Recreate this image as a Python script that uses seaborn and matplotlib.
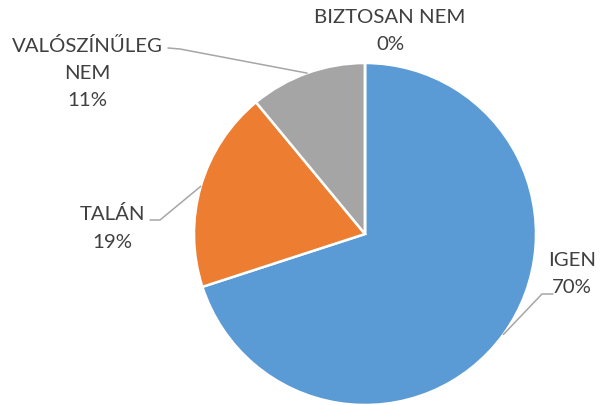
import numpy as np
import matplotlib
matplotlib.use("Agg")
import matplotlib.pyplot as plt
import seaborn as sns

# data
categories = ["IGEN", "TALÁN", "VALÓSZÍNŰLEG\nNEM", "BIZTOSAN NEM"]
values = [70, 19, 11, 0]
colors = ["#5B9BD5", "#ED7D31", "#A5A5A5", "#FFC000"]

# label layout in pixel coordinates (x, y from top)
label_pos = {
    "IGEN": (572, 274),
    "TALÁN": (112, 228),
    "VALÓSZÍNŰLEG\nNEM": (87, 73),
    "BIZTOSAN NEM": (390, 31),
}
# leader line elbow and end (pixel coords, y from top)
leader = {
    "IGEN": [(542, 295), (553, 295)],
    "TALÁN": [(160, 221), (150, 221)],
    "VALÓSZÍNŰLEG\nNEM": [(180, 50), (168, 49)],
}

W, H = 608, 406
cx, cy, r = 365, 235, 171

sns.set_theme(style="white")
plt.rcParams["font.family"] = ["Lato", "DejaVu Sans"]

fig = plt.figure(figsize=(W / 100, H / 100), dpi=100)
ax = fig.add_axes([0, 0, 1, 1])
wedges, _ = ax.pie(values, colors=colors, startangle=90, counterclock=False,
                   center=(cx, H - cy), radius=r,
                   wedgeprops=dict(edgecolor="white", linewidth=1.8))
ax.set_xlim(0, W)
ax.set_ylim(0, H)
ax.set_aspect("equal")
ax.axis("off")

for w, cat, val in zip(wedges, categories, values):
    tx, ty = label_pos[cat]
    ax.text(tx, H - ty, f"{cat}\n{val}%", ha="center", va="center",
            fontsize=14.7, color="#404040", linespacing=1.75)
    if cat in leader:
        mid = np.deg2rad((w.theta1 + w.theta2) / 2)
        px = cx + r * np.cos(mid)
        py = (H - cy) + r * np.sin(mid)
        pts = [(px, py)] + [(x, H - y) for x, y in leader[cat]]
        xs, ys = zip(*pts)
        ax.plot(xs, ys, color="#A6A6A6", lw=1.1)

fig.savefig("out.png", dpi=100)
